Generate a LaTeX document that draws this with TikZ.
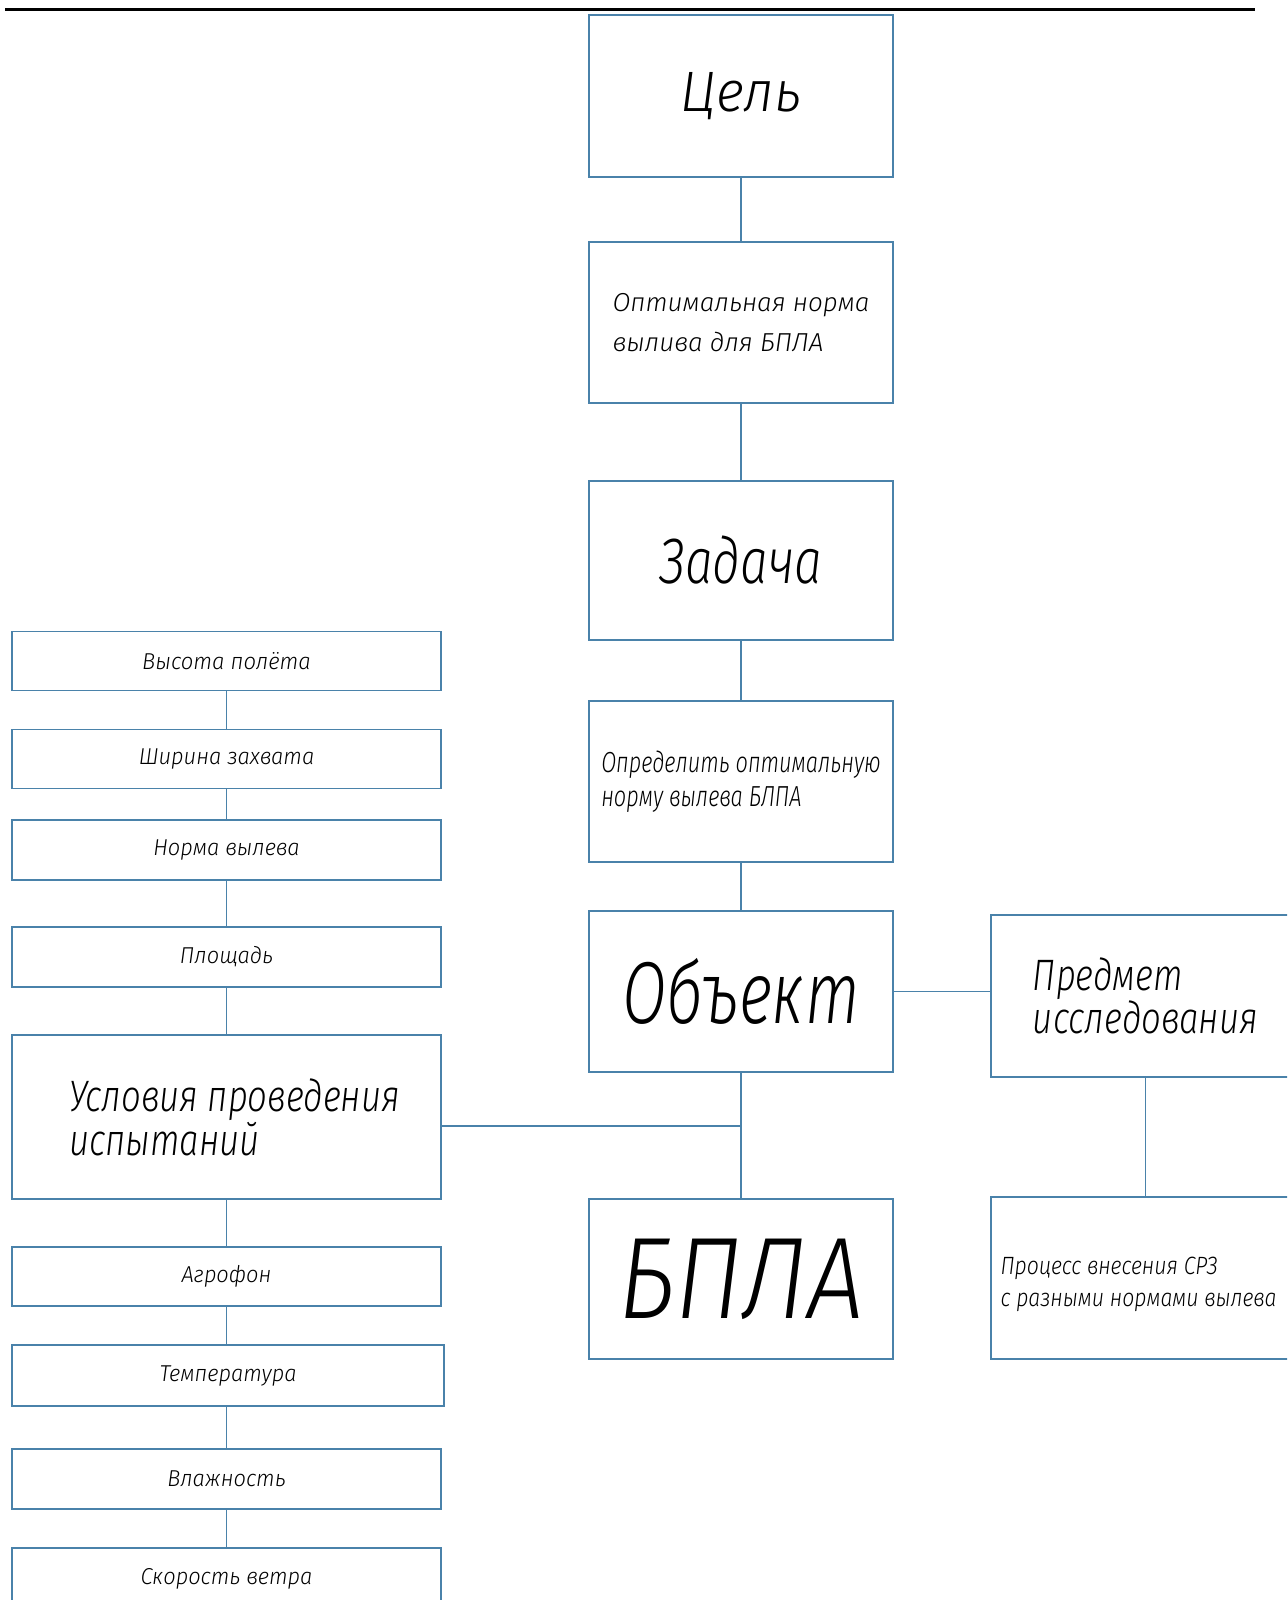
\documentclass[tikz,border=0pt]{standalone}
\usepackage{fontspec}
\usepackage{graphicx}
\newfontfamily\gost{Fira Sans}[UprightFont={* Light Italic}]
\newcommand\sq[2]{\scalebox{#1}[1]{#2}}
\definecolor{boxblue}{HTML}{4A82AA}
\tikzset{
  box/.style={draw=boxblue, line width=1.4pt, inner sep=0pt, align=left, font=\gost},
  link/.style={draw=boxblue, line width=1.4pt},
}
\begin{document}
\begin{tikzpicture}[x=1pt,y=-1pt]
\useasboundingbox (0,0) rectangle (1287,1600);
\clip (0,0) rectangle (1287,1600);
\fill[white] (0,0) rectangle (1287,1600);
% top rule
\draw[line width=3pt] (5,10) -- (1255,10);
% middle column
\node[box, minimum width=304pt, minimum height=162pt, font=\gost\fontsize{57}{60}\selectfont] (goal) at (741,96) {\sq{0.95}{Цель}};
\node[box, minimum width=304pt, minimum height=161pt, font=\gost\fontsize{26}{40}\selectfont] (opt) at (741,322.5) {Оптимальная норма\\вылива для БПЛА};
\node[box, minimum width=304pt, minimum height=159pt, font=\gost\fontsize{64}{66}\selectfont] (task) at (741,560.5) {\sq{0.77}{Задача}};
\node[box, minimum width=304pt, minimum height=161pt, font=\gost\fontsize{29}{34}\selectfont] (def) at (741,781.5) {\sq{0.75}{Определить оптимальную}\\\sq{0.75}{норму вылева БЛПА}};
\node[box, minimum width=304pt, minimum height=161pt, font=\gost\fontsize{88}{90}\selectfont] (obj) at (741,991.5) {\sq{0.73}{Объект}};
\node[box, minimum width=304pt, minimum height=160pt, font=\gost\fontsize{116}{118}\selectfont] (uav) at (741,1279) {\sq{0.87}{БПЛА}};
% right column
\node[box, minimum width=309pt, minimum height=162pt, font=\gost\fontsize{44}{41}\selectfont] (subj) at (1145.5,996) {\sq{0.79}{Предмет}\\\sq{0.79}{исследования}};
\node[box, minimum width=309pt, minimum height=162pt, font=\gost\fontsize{25}{32}\selectfont] (proc) at (1145.5,1278) {\rule{0pt}{30pt}\hspace*{-14pt}\sq{0.85}{Процесс внесения СРЗ}\\\hspace*{-14pt}\sq{0.85}{с разными нормами вылева}};
% left column
\tikzset{small/.style={box, minimum width=429pt, minimum height=59pt, align=center, font=\gost\fontsize{23}{26}\selectfont}}
\node[small] (h) at (226.5,661) {\sq{0.96}{Высота полёта}};
\node[small] (w) at (226.5,759) {\sq{0.95}{Ширина захвата}};
\node[small, minimum height=60pt] (n) at (226.5,850) {\sq{0.95}{Норма вылева}};
\node[small, minimum height=60pt] (a) at (226.5,957) {\sq{0.95}{Площадь}};
\node[box, minimum width=429pt, minimum height=164pt, font=\gost\fontsize{44}{44}\selectfont] (cond) at (226.5,1117) {\hspace*{16pt}\sq{0.79}{Условия проведения}\\\hspace*{16pt}\sq{0.79}{испытаний}};
\node[small] (agro) at (226.5,1276.5) {\sq{0.95}{Агрофон}};
\node[small, minimum width=432pt, minimum height=61pt] (temp) at (228,1375.5) {\sq{0.95}{Температура}};
\node[small, minimum height=60pt] (hum) at (226.5,1479) {\sq{0.95}{Влажность}};
\node[small, minimum height=62pt] (wind) at (226.5,1579) {\sq{0.95}{Скорость ветра}};
% connectors
\coordinate (j) at (741,1126);
\draw[link] (goal) -- (opt);
\draw[link] (opt) -- (task);
\draw[link] (task) -- (def);
\draw[link] (def) -- (obj);
\draw[link] (obj) -- (uav);
\draw[link] (obj.east) -- (obj.east -| subj.west);
\draw[link] (subj.south -| proc.north) -- (proc.north);
\draw[link] (cond.east |- j) -- (j);
\draw[link] (h) -- (w);
\draw[link] (w) -- (n);
\draw[link] (n) -- (a);
\draw[link] (a) -- (cond);
\draw[link] (cond) -- (agro);
\draw[link] (agro) -- (temp.north -| agro.south);
\draw[link] (temp.south -| hum.north) -- (hum);
\draw[link] (hum) -- (wind);
\end{tikzpicture}
\end{document}
